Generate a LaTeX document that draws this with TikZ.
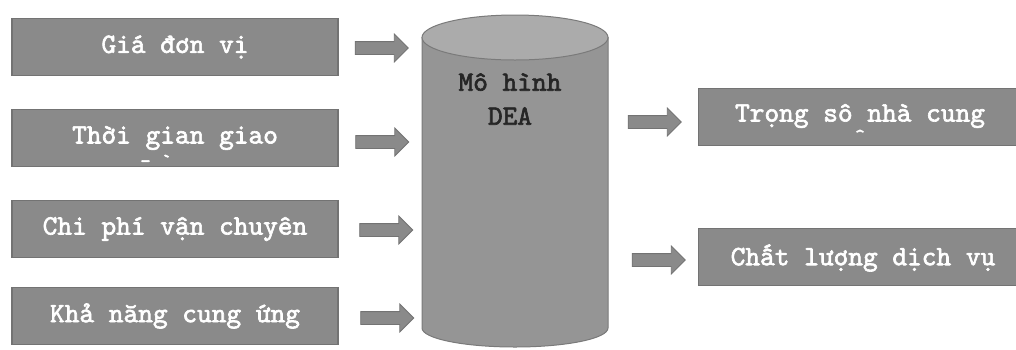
\documentclass[tikz,border=0pt]{standalone}
\usepackage{fontspec}
\newfontfamily\lmono{lmmono10-regular}[Extension=.otf, AutoFakeBold=2.2]
\usetikzlibrary{shapes.arrows}
\definecolor{boxgray}{HTML}{8A8A8A}
\definecolor{boxedge}{HTML}{737373}
\definecolor{cylbody}{HTML}{959595}
\definecolor{cyltop}{HTML}{ABABAB}
\definecolor{cyledge}{HTML}{7A7A7A}
\tikzset{
  txt/.style={font=\lmono\bfseries\fontsize{28}{30}\selectfont},
  inbox/.style={txt, fill=boxgray, draw=boxedge, line width=1.2pt, text=white,
    minimum width=326pt, minimum height=57pt, inner sep=0pt},
  outbox/.style={fill=boxgray, draw=boxedge, line width=1.2pt,
    minimum width=322pt, minimum height=57pt, inner sep=0pt, anchor=west},
  outtext/.style={txt, text=white, inner sep=0pt},
  blockarrow/.style={single arrow, fill=boxgray, draw=boxedge, line width=0.8pt,
    minimum height=53pt, minimum width=27pt, single arrow head extend=7.5pt,
    single arrow head indent=0pt, inner xsep=0pt, inner ysep=6pt, shape border rotate=0},
  stray/.style={font=\lmono\bfseries\fontsize{20}{20}\selectfont, text=white, inner sep=0pt}
}
\begin{document}
\begin{tikzpicture}[x=1pt,y=-1pt]
\useasboundingbox (0,0) rectangle (1016,349);
\clip (0,0) rectangle (1016,349);
\fill[white] (0,0) rectangle (1016,349);

% input boxes
\node[inbox] (b1) at (175,47) {Giá đơn vị};
\node[inbox] (b2) at (175,138) {Thời gian giao};
\node[stray] (s1) at (156,161) {- `};
\node[inbox] (b3) at (175,229) {Chi phí vận chuyên};
\node[inbox] (b4) at (175,316) {Khả năng cung ứng};

% input arrows
\node[blockarrow] (a1) at (378.5,48) {};
\node[blockarrow] (a2) at (379,142) {};
\node[blockarrow] (a3) at (383,230) {};
\node[blockarrow] (a4) at (384,318) {};

% cylinder
\draw[fill=cylbody, draw=cyledge, line width=1pt]
  (422,37.5) -- (422,328) arc[start angle=180, end angle=360, x radius=93, y radius=-19] -- (608,37.5) -- cycle;
\draw[fill=cyltop, draw=cyledge, line width=1pt] (515,37.5) ellipse[x radius=93, y radius=22.5];
\node[txt, text=black!85, align=center, inner sep=0pt] (dea) at (510,99)
  {Mô hình\\[4pt]DEA};

% output arrows
\node[blockarrow] (a5) at (651.5,122) {};
\node[blockarrow] (a6) at (655.5,260) {};

% output boxes
\node[outbox] (r1) at (698,117) {};
\node[outtext] (t1) at (860,116) {Trọng sô nhà cung};
\node[stray] (s2) at (860,136) {\^{}};
\node[outbox] (r2) at (698,257) {};
\node[outtext] (t2) at (863,258) {Chất lượng dịch vụ};
\end{tikzpicture}
\end{document}
